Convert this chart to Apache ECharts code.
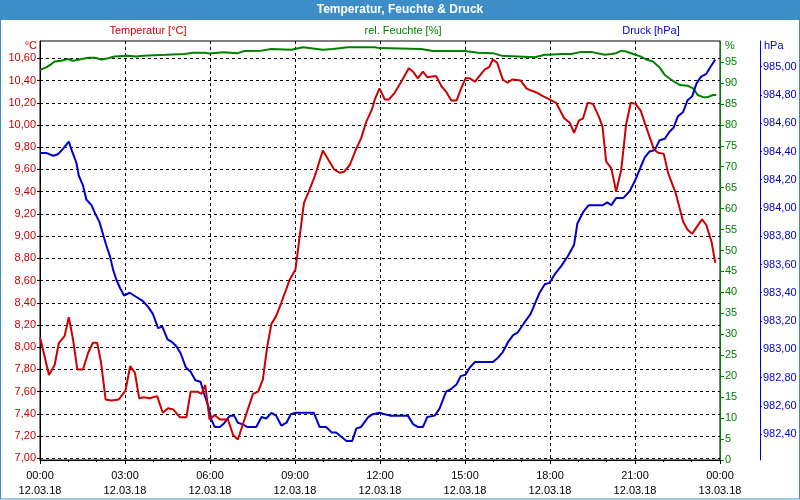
<!DOCTYPE html>
<html><head><meta charset="utf-8">
<script src="https://cdn.jsdelivr.net/npm/echarts@6/dist/echarts.min.js"></script>
<style>html,body{margin:0;padding:0;background:#fff}#c{width:800px;height:500px}</style>
</head><body><div id="c"></div>
<script>
// time in minutes since 12.03.18 00:00
const tempTime = [
  0,19,31,40,52,61,70,79,91,102,
  112,121,129,139,151,167,181,191,201,210,
  220,232,248,260,271,282,296,310,319,333,
  342,350,354,359,370,381,398,409,419,433,
  451,462,472,481,490,500,511,529,541,550,
  559,568,582,599,623,635,644,656,670,680,
  691,703,709,719,730,739,751,765,781,790,
  800,811,820,839,850,860,871,882,891,901,
  910,921,942,951,959,968,980,990,1000,1018,
  1030,1040,1053,1065,1079,1093,1110,1122,1131,1141,
  1150,1160,1171,1183,1191,1199,1210,1220,1231,1241,
  1251,1261,1272,1283,1300,1309,1321,1330,1346,1362,
  1371,1381,1392,1402,1411,1422,1430];
const tempVal = [
  8.09,7.75,7.84,8.04,8.10,8.27,8.07,7.80,7.80,7.95,
  8.04,8.04,7.87,7.53,7.52,7.53,7.61,7.83,7.77,7.54,
  7.55,7.54,7.56,7.41,7.45,7.44,7.37,7.37,7.60,7.60,
  7.58,7.66,7.52,7.35,7.39,7.35,7.35,7.21,7.17,7.35,
  7.58,7.60,7.71,8.00,8.21,8.28,8.40,8.61,8.70,9.00,
  9.30,9.39,9.54,9.77,9.60,9.57,9.58,9.64,9.79,9.88,
  10.03,10.14,10.23,10.33,10.23,10.23,10.29,10.39,10.51,10.48,
  10.42,10.48,10.43,10.44,10.35,10.30,10.22,10.22,10.32,10.42,
  10.42,10.39,10.50,10.52,10.59,10.56,10.41,10.38,10.41,10.40,
  10.33,10.31,10.29,10.26,10.23,10.20,10.06,10.02,9.93,10.04,
  10.06,10.20,10.19,10.08,9.99,9.67,9.61,9.40,9.60,10.00,
  10.20,10.19,10.13,9.99,9.78,9.75,9.74,9.57,9.39,9.13,
  9.06,9.02,9.09,9.15,9.10,8.95,8.76];

const presTime = [
  0,13,28,38,49,61,68,77,82,91,
  98,109,117,126,133,140,148,155,162,170,
  178,190,204,218,229,239,250,259,270,280,
  289,298,309,319,329,340,347,356,360,363,
  370,381,391,402,411,419,428,439,458,469,
  479,490,500,511,522,531,541,580,592,606,
  618,627,638,649,661,670,680,695,705,719,
  741,779,790,800,811,820,836,846,860,871,
  882,891,901,910,921,959,970,980,991,1002,
  1012,1026,1039,1049,1058,1069,1079,1090,1104,1118,
  1131,1138,1150,1162,1192,1201,1210,1220,1235,1249,
  1261,1272,1281,1291,1302,1312,1323,1333,1342,1351,
  1362,1371,1381,1390,1400,1411,1422,1430];
const presVal = [
  984.39,984.39,984.37,984.38,984.42,984.47,984.40,984.32,984.23,984.16,
  984.06,984.02,983.96,983.90,983.82,983.74,983.66,983.56,983.49,983.43,
  983.38,983.40,983.37,983.34,983.30,983.25,983.15,983.16,983.07,983.05,
  983.02,982.97,982.87,982.84,982.78,982.77,982.69,982.60,982.55,982.50,
  982.45,982.45,982.48,982.53,982.53,982.48,982.47,982.45,982.45,982.52,
  982.51,982.55,982.53,982.46,982.48,982.54,982.55,982.55,982.45,982.45,
  982.41,982.41,982.38,982.35,982.35,982.44,982.45,982.52,982.54,982.55,
  982.53,982.53,982.47,982.45,982.45,982.52,982.53,982.58,982.70,982.72,
  982.75,982.81,982.82,982.87,982.91,982.91,982.94,982.98,983.05,983.10,
  983.12,983.19,983.25,983.33,983.40,983.46,983.47,983.53,983.59,983.66,
  983.74,983.89,983.97,984.02,984.02,984.04,984.02,984.07,984.07,984.12,
  984.20,984.29,984.36,984.40,984.41,984.48,984.49,984.54,984.57,984.65,
  984.68,984.76,984.79,984.88,984.93,984.95,985.01,985.05];

const humTime = [
  0,13,24,31,45,59,70,84,102,116,
  130,144,158,186,204,218,267,306,324,349,
  359,388,419,433,469,490,532,557,599,620,
  652,709,719,807,832,899,928,959,977,1012,
  1048,1069,1079,1104,1125,1146,1167,1196,1210,1220,
  1231,1241,1256,1270,1284,1298,1312,1323,1340,1355,
  1372,1383,1393,1404,1414,1425,1432];
const humVal = [
  93.1,93.7,94.5,95.1,95.3,95.7,95.3,95.6,96.0,96.0,
  95.6,95.9,96.3,96.5,96.3,96.5,96.7,96.9,97.2,97.2,
  97.0,97.3,97.1,97.6,97.7,98.1,97.9,98.5,97.9,98.1,
  98.5,98.5,98.3,98.1,97.6,97.6,97.2,97.1,96.5,96.3,
  96.1,96.7,96.7,96.9,96.9,97.4,97.4,96.7,96.9,97.1,
  97.7,97.5,96.9,96.4,95.6,95.1,93.7,91.9,90.5,89.5,
  89.3,88.7,87.1,86.6,86.6,87.1,87.1];

const tempTicks = [7.0,7.2,7.4,7.6,7.8,8.0,8.2,8.4,8.6,8.8,9.0,9.2,9.4,9.6,9.8,10.0,10.2,10.4,10.6];
const humTicks = [0,5,10,15,20,25,30,35,40,45,50,55,60,65,70,75,80,85,90,95];
const presTicks = [982.4,982.6,982.8,983.0,983.2,983.4,983.6,983.8,984.0,984.2,984.4,984.6,984.8,985.0];
const dateLabels = ['12.03.18','13.03.18'];

const FONT = '"Liberation Sans", Arial, sans-serif';
const RED = '#cc0000', GREEN = '#008000', BLUE = '#0000cc', BAR = '#3d8ec8';
const zip = (t, v) => t.map((x, i) => [x, v[i]]);
const comma = v => v.toFixed(2).replace('.', ',');

const chart = echarts.init(document.getElementById('c'), null, {renderer: 'canvas'});
chart.setOption({
  animation: false,
  backgroundColor: '#fff',
  textStyle: {fontFamily: FONT},
  grid: {left: 40, right: 80, top: 41, bottom: 40, show: true, borderColor: '#000', borderWidth: 1, backgroundColor: 'transparent'},
  xAxis: {
    type: 'value', min: 0, max: 1440, interval: 180,
    axisLine: {onZero: false, lineStyle: {color: '#000', width: 1}},
    axisTick: {length: 4, lineStyle: {color: '#000'}},
    minorTick: {show: true, splitNumber: 3, length: 2, lineStyle: {color: '#000'}},
    axisLabel: {
      color: '#000', fontSize: 11, margin: 8, lineHeight: 15, fontFamily: FONT,
      formatter: v => {
        const h = Math.round(v / 60) % 24;
        const d = v >= 1440 ? dateLabels[1] : dateLabels[0];
        return (h < 10 ? '0' : '') + h + ':00\n' + d;
      }
    },
    splitLine: {show: true, lineStyle: {color: '#000', type: [3, 3], width: 1}}
  },
  yAxis: [
    {
      type: 'value', position: 'left', min: 6.985, max: 10.756,
      axisLine: {show: true, onZero: false, lineStyle: {color: '#000'}},
      axisTick: {show: true, length: 3, customValues: tempTicks, lineStyle: {color: '#000'}},
      axisLabel: {customValues: tempTicks, color: RED, fontSize: 11, margin: 4, fontFamily: FONT, formatter: comma},
      splitLine: {show: true, lineStyle: {color: '#000', type: [3, 3], width: 1}}
    },
    {
      type: 'value', position: 'right', offset: 0, min: 0, max: 100,
      axisLine: {show: true, onZero: false, lineStyle: {color: GREEN, width: 1}},
      axisTick: {show: true, length: 4, customValues: humTicks, lineStyle: {color: GREEN}},
      axisLabel: {customValues: humTicks, color: GREEN, fontSize: 11, margin: 5, fontFamily: FONT},
      splitLine: {show: false}
    },
    {
      type: 'value', position: 'right', offset: 40, min: 982.216, max: 985.182,
      axisLine: {show: true, onZero: false, lineStyle: {color: BLUE, width: 1}},
      axisTick: {show: true, length: 2, customValues: presTicks, lineStyle: {color: BLUE}},
      axisLabel: {customValues: presTicks, color: BLUE, fontSize: 11, margin: 3, fontFamily: FONT, formatter: comma},
      splitLine: {show: false}
    }
  ],
  series: [
    {type: 'line', name: 'rel. Feuchte [%]', yAxisIndex: 1, data: zip(humTime, humVal), showSymbol: false, symbol: 'none',
     lineStyle: {color: GREEN, width: 2}, itemStyle: {color: GREEN}},
    {type: 'line', name: 'Druck [hPa]', yAxisIndex: 2, data: zip(presTime, presVal), showSymbol: false, symbol: 'none',
     lineStyle: {color: BLUE, width: 2}, itemStyle: {color: BLUE}},
    {type: 'line', name: 'Temperatur [°C]', yAxisIndex: 0, data: zip(tempTime, tempVal), showSymbol: false, symbol: 'none',
     lineStyle: {color: RED, width: 2}, itemStyle: {color: RED}}
  ],
  graphic: [
    {type: 'rect', z: 0, shape: {x: 0, y: 0, width: 800, height: 20}, style: {fill: BAR}},
    {type: 'rect', z: 0, shape: {x: 0.5, y: 0.5, width: 799, height: 498.5}, style: {fill: null, stroke: BAR, lineWidth: 1}},
    {type: 'text', z: 10, style: {text: 'Temperatur, Feuchte & Druck', x: 400, y: 10, align: 'center', verticalAlign: 'middle', fill: '#fff', font: 'bold 12px ' + FONT}},
    {type: 'text', z: 10, style: {text: 'Temperatur [°C]', x: 148, y: 31, align: 'center', verticalAlign: 'middle', fill: RED, font: '11px ' + FONT}},
    {type: 'text', z: 10, style: {text: 'rel. Feuchte [%]', x: 403, y: 31, align: 'center', verticalAlign: 'middle', fill: GREEN, font: '11px ' + FONT}},
    {type: 'text', z: 10, style: {text: 'Druck [hPa]', x: 651, y: 31, align: 'center', verticalAlign: 'middle', fill: BLUE, font: '11px ' + FONT}},
    {type: 'text', z: 10, style: {text: '°C', x: 37, y: 46, align: 'right', verticalAlign: 'middle', fill: RED, font: '11px ' + FONT}},
    {type: 'text', z: 10, style: {text: '%', x: 725, y: 46, align: 'left', verticalAlign: 'middle', fill: GREEN, font: '11px ' + FONT}},
    {type: 'text', z: 10, style: {text: 'hPa', x: 764, y: 46, align: 'left', verticalAlign: 'middle', fill: BLUE, font: '11px ' + FONT}}
  ]
});
</script>
</body></html>
